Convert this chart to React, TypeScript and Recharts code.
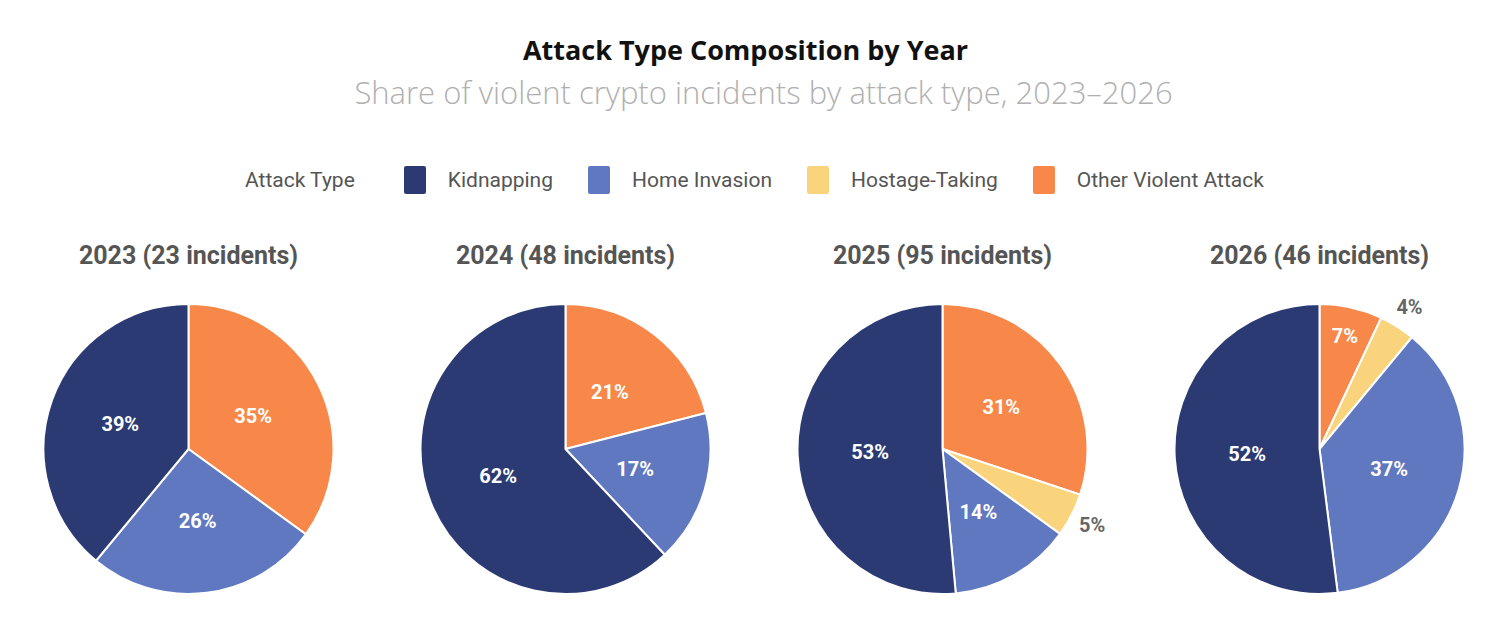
import { Cell, Pie, PieChart } from 'recharts'

const attackTypes = ['Kidnapping', 'Home Invasion', 'Hostage-Taking', 'Other Violent Attack']
const typeColors = ['#2b3a73', '#5f78bf', '#f9d47c', '#f8884a']

const years = ['2023', '2024', '2025', '2026']
const incidents = [23, 48, 95, 46]

// share (%) per attack type, one entry per year
const kidnapping = [39, 62, 53, 52]
const homeInvasion = [26, 17, 14, 37]
const hostageTaking = [0, 0, 5, 4]
const otherViolent = [35, 21, 31, 7]

const RADIAN = Math.PI / 180
const FONT = 'Roboto, "Noto Sans", sans-serif'

// slices go clockwise from 12 o'clock: other, hostage, home invasion, kidnapping
const sliceOrder = [3, 2, 1, 0]

function yearData(i: number) {
  const values = [kidnapping[i], homeInvasion[i], hostageTaking[i], otherViolent[i]]
  return sliceOrder.map((t) => ({ name: attackTypes[t], value: values[t], color: typeColors[t] }))
}

// eslint-disable-next-line @typescript-eslint/no-explicit-any
const renderLabel = (props: any) => {
  const { cx, cy, midAngle, outerRadius, value } = props
  if (!value) return null
  const inside = value >= 7
  // narrow slices push their label out towards the rim, tiny ones go outside
  let r = outerRadius * 0.5
  if (!inside) r = outerRadius + 23
  else if (value < 10) r = outerRadius * 0.8
  const x = cx + r * Math.cos(-midAngle * RADIAN)
  const y = cy + r * Math.sin(-midAngle * RADIAN)
  return (
    <text
      x={x}
      y={y}
      fill={inside ? '#ffffff' : '#666666'}
      textAnchor="middle"
      dominantBaseline="central"
      fontFamily={FONT}
      fontWeight={700}
      fontSize={20}
    >
      {`${value}%`}
    </text>
  )
}

function YearPie({ index }: { index: number }) {
  const data = yearData(index)
  return (
    <div style={{ width: 377, position: 'relative' }}>
      <div
        style={{
          textAlign: 'center',
          fontFamily: FONT,
          fontWeight: 700,
          fontSize: 25,
          color: '#555555',
          lineHeight: '26px',
        }}
      >
        {`${years[index]} (${incidents[index]} incidents)`}
      </div>
      <PieChart
        width={377}
        height={360}
        margin={{ top: 0, right: 0, bottom: 0, left: 0 }}
        style={{ marginTop: 4 }}
      >
        <Pie
          data={data}
          dataKey="value"
          nameKey="name"
          cx={188.5}
          cy={176}
          outerRadius={145}
          startAngle={90}
          endAngle={-270}
          stroke="#ffffff"
          strokeWidth={2}
          label={renderLabel}
          labelLine={false}
          isAnimationActive={false}
        >
          {data.map((d) => (
            <Cell key={d.name} fill={d.color} />
          ))}
        </Pie>
      </PieChart>
    </div>
  )
}

export default function App() {
  return (
    <div
      style={{
        position: 'relative',
        width: 1491,
        height: 640,
        margin: -8,
        background: '#ffffff',
        overflow: 'hidden',
      }}
    >
      <div
        style={{
          position: 'absolute',
          top: 31,
          width: '100%',
          textAlign: 'center',
          fontFamily: '"Open Sans", sans-serif',
          fontWeight: 700,
          fontSize: 27,
          color: '#111111',
        }}
      >
        Attack Type Composition by Year
      </div>
      <div
        style={{
          position: 'absolute',
          top: 71,
          left: 18,
          width: '100%',
          textAlign: 'center',
          fontFamily: '"Open Sans", sans-serif',
          fontWeight: 300,
          fontSize: 31,
          color: '#b0b0b0',
        }}
      >
        Share of violent crypto incidents by attack type, 2023–2026
      </div>
      <div
        style={{
          position: 'absolute',
          top: 166,
          left: 245,
          display: 'flex',
          alignItems: 'center',
          fontFamily: FONT,
          fontSize: 21,
          color: '#555555',
        }}
      >
        <span style={{ marginRight: 49 }}>Attack Type</span>
        {attackTypes.map((t, i) => (
          <span key={t} style={{ display: 'flex', alignItems: 'center', marginRight: 35 }}>
            <span
              style={{
                display: 'inline-block',
                width: 22,
                height: 28,
                borderRadius: 2,
                background: typeColors[i],
                marginRight: 22,
              }}
            />
            {t}
          </span>
        ))}
      </div>
      <div style={{ position: 'absolute', top: 243, left: 0, display: 'flex' }}>
        {years.map((y, i) => (
          <YearPie key={y} index={i} />
        ))}
      </div>
    </div>
  )
}
